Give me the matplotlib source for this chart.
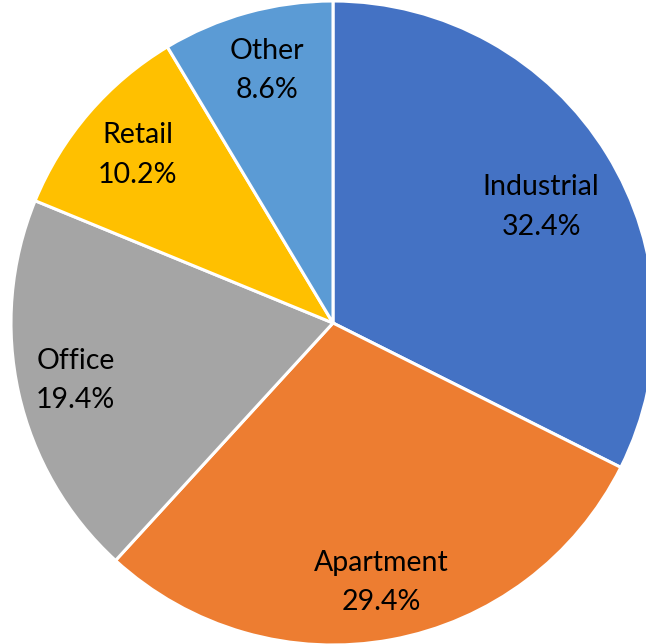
import numpy as np
import matplotlib.pyplot as plt

plt.rcParams['font.family'] = ['Lato', 'DejaVu Sans']

categories = ['Industrial', 'Apartment', 'Office', 'Retail', 'Other']
shares = [32.4, 29.4, 19.4, 10.2, 8.6]
colors = ['#4472C4', '#ED7D31', '#A5A5A5', '#FFC000', '#5B9BD5']
# label placement: radial distance and angle shift (deg) from wedge middle
label_radius = [0.74, 0.82, 0.82, 0.80, 0.81]
label_shift = [-2.6, 0, 0, 0, -0.9]

fig = plt.figure(figsize=(6.46, 6.44), dpi=100)
ax = fig.add_axes([11 / 646, -1 / 644, 644 / 646, 644 / 644])

wedges, _ = ax.pie(shares, colors=colors, startangle=90, counterclock=False,
                   radius=1.0,
                   wedgeprops=dict(edgecolor='white', linewidth=2.2))

for w, name, val, r, s in zip(wedges, categories, shares, label_radius, label_shift):
    ang = np.deg2rad((w.theta1 + w.theta2) / 2 + s)
    ax.text(r * np.cos(ang), r * np.sin(ang), f'{name}\n{val:.1f}%',
            ha='center', va='center', fontsize=20.5, color='black',
            linespacing=1.65)

ax.set_xlim(-1, 1)
ax.set_ylim(-1, 1)
ax.set_aspect('equal')
ax.axis('off')

fig.savefig('out.png', dpi=100)
